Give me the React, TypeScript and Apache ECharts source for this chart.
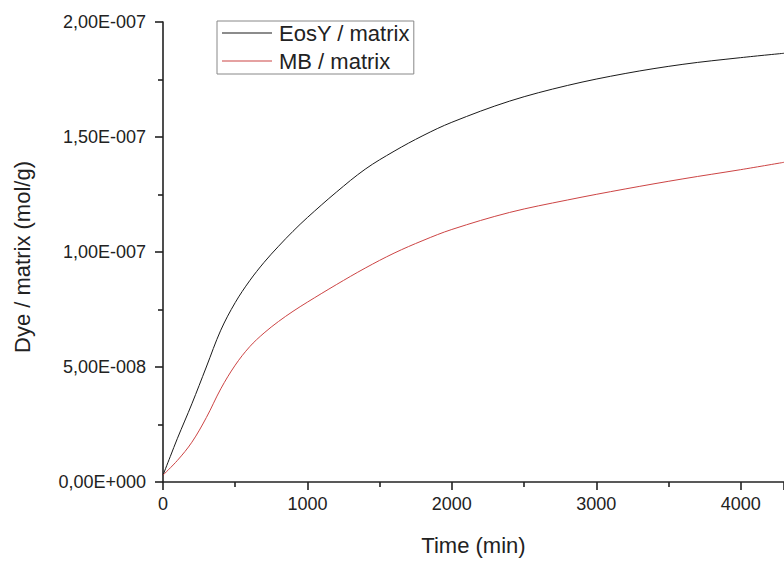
import React, { useEffect, useRef } from "react";
import * as echarts from "echarts";

const eosTime = [0, 50, 100, 200, 300, 400, 500, 600, 700, 800, 900, 1000, 1200, 1400, 1600, 1800, 2000, 2400, 2800, 3200, 3600, 4000, 4300];
const eosValues = [0.3, 1.1, 1.9, 3.4, 5.0, 6.6, 7.8, 8.75, 9.55, 10.25, 10.9, 11.5, 12.6, 13.6, 14.38, 15.06, 15.64, 16.56, 17.24, 17.76, 18.16, 18.45, 18.64];

const mbTime = [0, 100, 200, 300, 400, 500, 600, 700, 800, 900, 1000, 1200, 1400, 1600, 1800, 2000, 2400, 2800, 3200, 3600, 4000, 4300];
const mbValues = [0.3, 0.94, 1.73, 2.8, 4.05, 5.08, 5.88, 6.48, 6.98, 7.42, 7.82, 8.58, 9.3, 9.95, 10.5, 10.98, 11.72, 12.26, 12.74, 13.18, 13.58, 13.9];

const valueScale = 1e-8;
const seriesNames = ["EosY / matrix", "MB / matrix"];
const xAxisTitle = "Time (min)";
const yAxisTitle = "Dye / matrix (mol/g)";

const FONT = "'Liberation Sans', Arial, sans-serif";

function fmtSci(v: number): string {
  const s = v.toExponential(2);
  const [m, e] = s.split("e");
  const ex = parseInt(e, 10);
  const sign = ex < 0 ? "-" : "+";
  const digits = String(Math.abs(ex)).padStart(3, "0");
  return m.replace(".", ",") + "E" + sign + digits;
}

export default function App() {
  const ref = useRef<HTMLDivElement>(null);
  useEffect(() => {
    if (!ref.current) return;
    const chart = echarts.init(ref.current, null, { renderer: "svg" });
    const axisColor = "#222";
    chart.setOption({
      animation: false,
      backgroundColor: "#fff",
      textStyle: { fontFamily: FONT },
      grid: { left: 163, right: 0, top: 22, bottom: 79, containLabel: false },
      legend: {
        left: 217,
        top: 21,
        orient: "vertical",
        data: seriesNames,
        icon: "rect",
        borderColor: "#888",
        borderWidth: 1,
        padding: [0, 4, 1, 5],
        itemGap: 4,
        itemWidth: 50,
        itemHeight: 1.2,
        textStyle: { fontFamily: FONT, fontSize: 22, lineHeight: 24, color: "#222", padding: [0, 0, 0, 2] },
      },
      xAxis: {
        type: "value",
        min: 0,
        max: 4300,
        interval: 1000,
        name: xAxisTitle,
        nameLocation: "middle",
        nameGap: 52,
        nameTextStyle: { fontFamily: FONT, fontSize: 22, color: "#222" },
        axisLine: { show: true, lineStyle: { color: axisColor, width: 1.6 } },
        axisTick: { show: true, inside: false, length: 8, lineStyle: { color: axisColor, width: 1.6 } },
        minorTick: { show: true, splitNumber: 2, length: 5, lineStyle: { color: axisColor, width: 1.6 } },
        splitLine: { show: false },
        axisLabel: {
          fontFamily: FONT,
          fontSize: 18,
          color: "#222",
          margin: 13,
          showMaxLabel: false,
          formatter: (v: number) => String(v),
        },
      },
      yAxis: {
        type: "value",
        min: 0,
        max: 2e-7,
        interval: 5e-8,
        name: yAxisTitle,
        nameLocation: "middle",
        nameGap: 130,
        nameRotate: 90,
        nameTextStyle: { fontFamily: FONT, fontSize: 22, color: "#222", padding: [0, 10, 0, 0] },
        axisLine: { show: true, lineStyle: { color: axisColor, width: 1.6 } },
        axisTick: { show: true, inside: false, length: 8, lineStyle: { color: axisColor, width: 1.6 } },
        minorTick: { show: true, splitNumber: 2, length: 5, lineStyle: { color: axisColor, width: 1.6 } },
        splitLine: { show: false },
        axisLabel: { fontFamily: FONT, fontSize: 18, color: "#222", margin: 17, formatter: (v: number) => fmtSci(v) },
      },
      series: [
        {
          name: seriesNames[0],
          type: "line",
          symbol: "none",
          smooth: 0.35,
          lineStyle: { color: "#1a1a1a", width: 1 },
          itemStyle: { color: "#1a1a1a" },
          data: eosTime.map((t, i) => [t, eosValues[i] * valueScale]),
        },
        {
          name: seriesNames[1],
          type: "line",
          symbol: "none",
          smooth: 0.35,
          lineStyle: { color: "#cc4444", width: 1 },
          itemStyle: { color: "#cc4444" },
          data: mbTime.map((t, i) => [t, mbValues[i] * valueScale]),
        },
      ],
    });
    return () => chart.dispose();
  }, []);
  return (
    <div
      ref={ref}
      style={{ position: "fixed", left: 0, top: 0, width: 784, height: 561, background: "#fff" }}
    />
  );
}
